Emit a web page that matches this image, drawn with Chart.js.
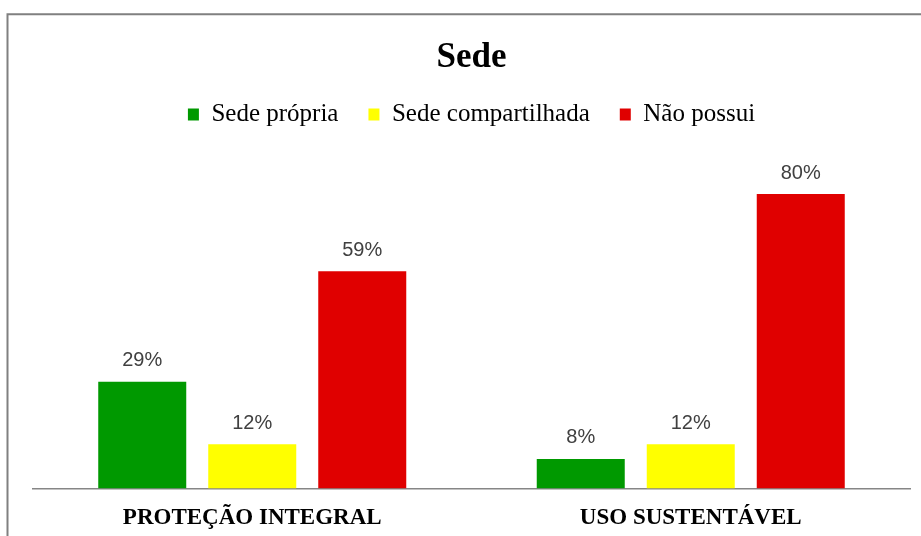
<!DOCTYPE html>
<html>
<head>
<meta charset="utf-8">
<script src="https://cdn.jsdelivr.net/npm/chart.js@4/dist/chart.umd.min.js"></script>
<style>
html,body{margin:0;padding:0;background:#fff;}
#wrap{position:relative;width:921px;height:536px;}
</style>
</head>
<body>
<div id="wrap"><canvas id="c" width="921" height="536"></canvas></div>
<script>
const categories = ["PROTEÇÃO INTEGRAL", "USO SUSTENTÁVEL"];
const seriesNames = ["Sede própria", "Sede compartilhada", "Não possui"];
const sedePropria = [29, 8];
const sedeCompartilhada = [12, 12];
const naoPossui = [59, 80];
const seriesColors = ["#009900", "#FFFF00", "#E00000"];

const frame = {
  id: 'frame',
  beforeDraw(chart) {
    const ctx = chart.ctx;
    ctx.save();
    ctx.strokeStyle = '#808080';
    ctx.lineWidth = 2;
    ctx.beginPath();
    ctx.moveTo(7.5, 536);
    ctx.lineTo(7.5, 14.3);
    ctx.lineTo(921, 14.3);
    ctx.stroke();
    ctx.restore();
  }
};

const valueLabels = {
  id: 'valueLabels',
  afterDatasetsDraw(chart) {
    const ctx = chart.ctx;
    ctx.save();
    ctx.font = '20px "Liberation Sans", Arial, sans-serif';
    ctx.fillStyle = '#404040';
    ctx.textAlign = 'center';
    ctx.textBaseline = 'alphabetic';
    chart.data.datasets.forEach((ds, i) => {
      chart.getDatasetMeta(i).data.forEach((bar, j) => {
        ctx.fillText(ds.data[j] + '%', bar.x, bar.y - 15.5);
      });
    });
    ctx.restore();
  }
};

new Chart(document.getElementById('c'), {
  type: 'bar',
  data: {
    labels: categories,
    datasets: [
      { label: seriesNames[0], data: sedePropria, backgroundColor: seriesColors[0] },
      { label: seriesNames[1], data: sedeCompartilhada, backgroundColor: seriesColors[1] },
      { label: seriesNames[2], data: naoPossui, backgroundColor: seriesColors[2] }
    ]
  },
  options: {
    responsive: false,
    animation: false,
    devicePixelRatio: 1,
    categoryPercentage: 0.7526,
    barPercentage: 0.8,
    layout: { padding: { top: 0, left: 33, right: 11, bottom: -12 } },
    plugins: {
      title: {
        display: true,
        text: 'Sede',
        color: '#000',
        font: { family: '"Liberation Serif", "Times New Roman", serif', size: 35, weight: 'bold', lineHeight: 0.8 },
        padding: { top: 44, bottom: 0 }
      },
      legend: {
        display: true,
        position: 'top',
        labels: {
          color: '#000',
          font: { family: '"Liberation Serif", "Times New Roman", serif', size: 25 },
          boxWidth: 11,
          boxHeight: 12,
          padding: 30
        }
      },
      tooltip: { enabled: false }
    },
    scales: {
      x: {
        grid: { display: false, drawTicks: false },
        border: { display: true, color: '#868686', width: 1.5 },
        ticks: {
          color: '#000',
          padding: 16,
          font: { family: '"Liberation Serif", "Times New Roman", serif', size: 23, weight: 'bold' }
        }
      },
      y: {
        display: false,
        min: 0,
        max: 95.5
      }
    }
  },
  plugins: [frame, valueLabels]
});
</script>
</body>
</html>
